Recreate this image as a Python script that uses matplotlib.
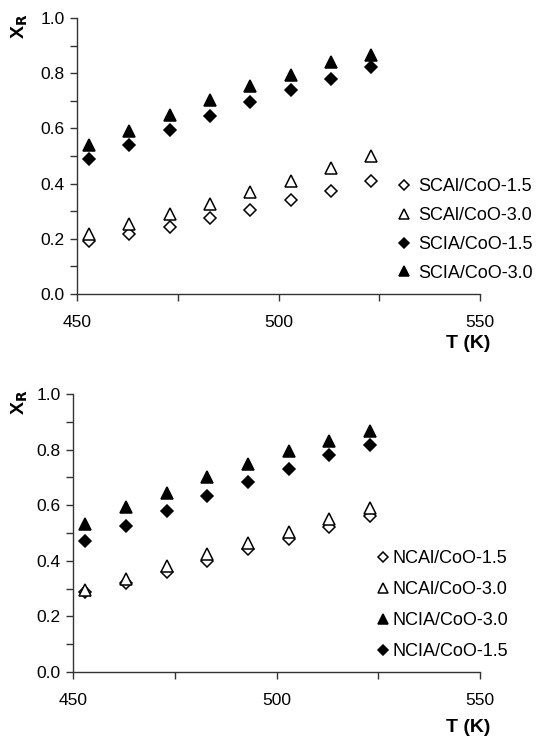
import numpy as np
import matplotlib
matplotlib.use('Agg')
import matplotlib.pyplot as plt
from matplotlib.ticker import MultipleLocator

plt.rcParams['font.family'] = ['Liberation Sans', 'DejaVu Sans']

# ---- data ----
T = [453, 463, 473, 483, 493, 503, 513, 523]

scal_15 = [0.191, 0.217, 0.243, 0.274, 0.306, 0.342, 0.373, 0.411]
scal_30 = [0.217, 0.255, 0.291, 0.327, 0.368, 0.411, 0.457, 0.499]
scia_15 = [0.488, 0.540, 0.593, 0.644, 0.697, 0.738, 0.779, 0.821]
scia_30 = [0.541, 0.592, 0.650, 0.702, 0.752, 0.795, 0.839, 0.867]

ncal_15 = [0.286, 0.321, 0.360, 0.399, 0.442, 0.478, 0.520, 0.561]
ncal_30 = [0.294, 0.334, 0.381, 0.423, 0.465, 0.502, 0.552, 0.591]
ncia_30 = [0.534, 0.594, 0.644, 0.702, 0.747, 0.796, 0.832, 0.867]
ncia_15 = [0.472, 0.525, 0.580, 0.633, 0.684, 0.731, 0.779, 0.815]

top_series = [
    ('SCAl/CoO-1.5', scal_15, 'D', 'white'),
    ('SCAl/CoO-3.0', scal_30, '^', 'white'),
    ('SCIA/CoO-1.5', scia_15, 'D', 'black'),
    ('SCIA/CoO-3.0', scia_30, '^', 'black'),
]
bottom_series = [
    ('NCAl/CoO-1.5', ncal_15, 'D', 'white'),
    ('NCAl/CoO-3.0', ncal_30, '^', 'white'),
    ('NCIA/CoO-3.0', ncia_30, '^', 'black'),
    ('NCIA/CoO-1.5', ncia_15, 'D', 'black'),
]

fig = plt.figure(figsize=(5.38, 7.39), dpi=100)
W, H = 538., 739.


def panel(rect, series, leg_xy, leg_pad, leg_space, tlabel_y):
    l, t, r, b = rect
    ax = fig.add_axes([l / W, 1 - b / H, (r - l) / W, (b - t) / H])
    for name, y, m, fc in series:
        ms = 6.5 if m == 'D' else 8
        ax.plot(T, y, linestyle='none', marker=m, markersize=ms,
                markerfacecolor=fc, markeredgecolor='black',
                markeredgewidth=1.1, label=name)
    ax.set_xlim(450, 550)
    ax.set_ylim(0, 1.0)
    ax.xaxis.set_major_locator(MultipleLocator(50))
    ax.xaxis.set_minor_locator(MultipleLocator(25))
    ax.yaxis.set_major_locator(MultipleLocator(0.2))
    ax.yaxis.set_minor_locator(MultipleLocator(0.1))
    ax.yaxis.set_major_formatter(matplotlib.ticker.FormatStrFormatter('%.1f'))
    for s in ['top', 'right']:
        ax.spines[s].set_visible(False)
    for s in ['left', 'bottom']:
        ax.spines[s].set_linewidth(1.0)
        ax.spines[s].set_color('#333333')
    ax.tick_params(which='both', direction='out', width=1.0, color='#333333',
                   labelsize=12.5, labelcolor='black')
    ax.tick_params(which='major', length=5)
    ax.tick_params(which='minor', length=5)
    ax.tick_params(axis='x', pad=10)
    ax.tick_params(axis='y', pad=4)
    # axis labels
    fig.text(10 / W, 1 - (t + 8) / H, 'X$_\\mathbf{R}$', rotation=90,
             fontsize=14, fontweight='bold', ha='left', va='center')
    fig.text(490 / W, 1 - tlabel_y / H, 'T (K)', fontsize=14,
             fontweight='bold', ha='right', va='center')
    leg = ax.legend(loc='upper left', bbox_to_anchor=(leg_xy[0] / W, 1 - leg_xy[1] / H),
                    bbox_transform=fig.transFigure, frameon=False, fontsize=13,
                    handlelength=0.6, handletextpad=leg_pad,
                    labelspacing=leg_space, borderaxespad=0, borderpad=0)
    # 凡例のマーカーは少し小さめ
    for h in leg.legend_handles:
        h.set_markersize(4.8 if h.get_marker() == 'D' else 6.5)
    return ax


panel((77, 18, 480, 294), top_series, (398.6, 178), 0.48, 0.66, 343)
panel((73, 394, 480, 672), bottom_series, (377.6, 550), 0.25, 0.78, 728)

plt.savefig('out.png', dpi=100)
